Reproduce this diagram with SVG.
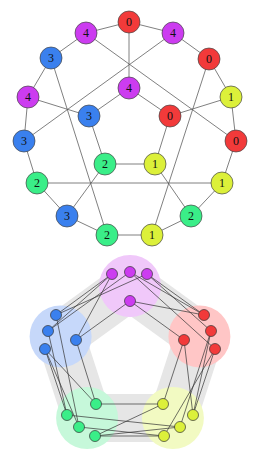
<svg xmlns="http://www.w3.org/2000/svg" width="260" height="462" viewBox="0 0 260 462">
<style>
.e{stroke:#555;stroke-width:0.75;fill:none}
.be{stroke:#333;stroke-width:0.7;fill:none}
.n circle{stroke:#444;stroke-width:0.7}
.s circle{stroke:#333;stroke-width:0.7}
.t{font-family:"Liberation Serif","DejaVu Serif",serif;font-size:12px;fill:#111;text-anchor:middle;dominant-baseline:central}
.c0{fill:#f23a3a}.c1{fill:#dcf03a}.c2{fill:#3aee88}.c3{fill:#3a80ee}.c4{fill:#cc3cf0}
.band{stroke:#e6e6e6;stroke-width:48;stroke-linecap:butt;fill:none}
</style>
<rect width="260" height="462" fill="#fff"/>
<g id="edges-top">
<line class="e" x1="129" y1="22" x2="173" y2="33"/>
<line class="e" x1="173" y1="33" x2="209" y2="59"/>
<line class="e" x1="209" y1="59" x2="231" y2="97"/>
<line class="e" x1="231" y1="97" x2="236" y2="141"/>
<line class="e" x1="236" y1="141" x2="222" y2="183"/>
<line class="e" x1="222" y1="183" x2="191" y2="216"/>
<line class="e" x1="191" y1="216" x2="152" y2="235"/>
<line class="e" x1="152" y1="235" x2="107" y2="235"/>
<line class="e" x1="107" y1="235" x2="67" y2="216"/>
<line class="e" x1="67" y1="216" x2="37" y2="183"/>
<line class="e" x1="37" y1="183" x2="24" y2="141"/>
<line class="e" x1="24" y1="141" x2="28" y2="97"/>
<line class="e" x1="28" y1="97" x2="51" y2="58"/>
<line class="e" x1="51" y1="58" x2="86" y2="33"/>
<line class="e" x1="86" y1="33" x2="129" y2="22"/>
<line class="e" x1="129" y1="88" x2="170" y2="116"/>
<line class="e" x1="170" y1="116" x2="155" y2="164"/>
<line class="e" x1="155" y1="164" x2="105" y2="164"/>
<line class="e" x1="105" y1="164" x2="89" y2="116"/>
<line class="e" x1="89" y1="116" x2="129" y2="88"/>
<line class="e" x1="129" y1="22" x2="129" y2="88"/>
<line class="e" x1="231" y1="97" x2="170" y2="116"/>
<line class="e" x1="191" y1="216" x2="155" y2="164"/>
<line class="e" x1="67" y1="216" x2="105" y2="164"/>
<line class="e" x1="28" y1="97" x2="89" y2="116"/>
<line class="e" x1="173" y1="33" x2="24" y2="141"/>
<line class="e" x1="209" y1="59" x2="152" y2="235"/>
<line class="e" x1="236" y1="141" x2="86" y2="33"/>
<line class="e" x1="222" y1="183" x2="37" y2="183"/>
<line class="e" x1="51" y1="58" x2="107" y2="235"/>
</g>
<g id="t0top" class="n"><circle class="c0" cx="129" cy="22" r="11"/><text class="t" x="129" y="22">0</text></g>
<g id="t4left" class="n"><circle class="c4" cx="86" cy="33" r="11"/><text class="t" x="86" y="33">4</text></g>
<g id="t4right" class="n"><circle class="c4" cx="173" cy="33" r="11"/><text class="t" x="173" y="33">4</text></g>
<g id="t3left" class="n"><circle class="c3" cx="51" cy="58" r="11"/><text class="t" x="51" y="58">3</text></g>
<g id="t0right" class="n"><circle class="c0" cx="209" cy="59" r="11"/><text class="t" x="209" y="59">0</text></g>
<g id="t4inner" class="n"><circle class="c4" cx="129" cy="88" r="11"/><text class="t" x="129" y="88">4</text></g>
<g id="t4farleft" class="n"><circle class="c4" cx="28" cy="97" r="11"/><text class="t" x="28" y="97">4</text></g>
<g id="t1right" class="n"><circle class="c1" cx="231" cy="97" r="11"/><text class="t" x="231" y="97">1</text></g>
<g id="t3inner" class="n"><circle class="c3" cx="89" cy="116" r="11"/><text class="t" x="89" y="116">3</text></g>
<g id="t0inner" class="n"><circle class="c0" cx="170" cy="116" r="11"/><text class="t" x="170" y="116">0</text></g>
<g id="t3farleft" class="n"><circle class="c3" cx="24" cy="141" r="11"/><text class="t" x="24" y="141">3</text></g>
<g id="t0farright" class="n"><circle class="c0" cx="236" cy="141" r="11"/><text class="t" x="236" y="141">0</text></g>
<g id="t2inner" class="n"><circle class="c2" cx="105" cy="164" r="11"/><text class="t" x="105" y="164">2</text></g>
<g id="t1inner" class="n"><circle class="c1" cx="155" cy="164" r="11"/><text class="t" x="155" y="164">1</text></g>
<g id="t2left" class="n"><circle class="c2" cx="37" cy="183" r="11"/><text class="t" x="37" y="183">2</text></g>
<g id="t1right2" class="n"><circle class="c1" cx="222" cy="183" r="11"/><text class="t" x="222" y="183">1</text></g>
<g id="t3lower" class="n"><circle class="c3" cx="67" cy="216" r="11"/><text class="t" x="67" y="216">3</text></g>
<g id="t2lowerright" class="n"><circle class="c2" cx="191" cy="216" r="11"/><text class="t" x="191" y="216">2</text></g>
<g id="t2bottom" class="n"><circle class="c2" cx="107" cy="235" r="11"/><text class="t" x="107" y="235">2</text></g>
<g id="t1bottom" class="n"><circle class="c1" cx="152" cy="235" r="11"/><text class="t" x="152" y="235">1</text></g>

<g id="bands">
<polygon class="band" stroke-linejoin="round" points="130,286 199.4,336.4 172.9,418 87.1,418 60.6,336.4"/>
</g>
<g id="clusters">
<circle id="blob4" cx="130" cy="286" r="31" fill="#f0c8fa"/>
<circle id="blob0" cx="199.4" cy="336.4" r="31" fill="#ffc6c6"/>
<circle id="blob1" cx="172.9" cy="418" r="31" fill="#f2fac2"/>
<circle id="blob2" cx="87.1" cy="418" r="31" fill="#c6f8da"/>
<circle id="blob3" cx="60.6" cy="336.4" r="31" fill="#c6d8fa"/>
</g>
<g id="edges-bottom">
<line class="be" x1="112" y1="274" x2="56" y2="315"/>
<line class="be" x1="112" y1="274" x2="48" y2="331"/>
<line class="be" x1="112" y1="274" x2="76" y2="340"/>
<line class="be" x1="130" y1="272" x2="48" y2="331"/>
<line class="be" x1="147" y1="274" x2="56" y2="315"/>
<line class="be" x1="130" y1="301" x2="76" y2="340"/>
<line class="be" x1="130" y1="272" x2="204" y2="315"/>
<line class="be" x1="147" y1="274" x2="204" y2="315"/>
<line class="be" x1="130" y1="301" x2="204" y2="315"/>
<line class="be" x1="130" y1="301" x2="184" y2="340"/>
<line class="be" x1="130" y1="272" x2="215" y2="349"/>
<line class="be" x1="147" y1="274" x2="211" y2="331"/>
<line class="be" x1="211" y1="331" x2="193" y2="415"/>
<line class="be" x1="211" y1="331" x2="180" y2="427"/>
<line class="be" x1="215" y1="349" x2="193" y2="415"/>
<line class="be" x1="215" y1="349" x2="164" y2="436"/>
<line class="be" x1="184" y1="340" x2="163" y2="404"/>
<line class="be" x1="184" y1="340" x2="193" y2="415"/>
<line class="be" x1="164" y1="436" x2="79" y2="427"/>
<line class="be" x1="164" y1="436" x2="95" y2="436"/>
<line class="be" x1="180" y1="427" x2="95" y2="436"/>
<line class="be" x1="180" y1="427" x2="67" y2="415"/>
<line class="be" x1="163" y1="404" x2="95" y2="436"/>
<line class="be" x1="163" y1="404" x2="96" y2="404"/>
<line class="be" x1="67" y1="415" x2="48" y2="331"/>
<line class="be" x1="67" y1="415" x2="45" y2="349"/>
<line class="be" x1="79" y1="427" x2="56" y2="315"/>
<line class="be" x1="79" y1="427" x2="45" y2="349"/>
<line class="be" x1="96" y1="404" x2="76" y2="340"/>
<line class="be" x1="96" y1="404" x2="45" y2="349"/>
</g>
<g id="bP1" class="s"><circle class="c4" cx="112" cy="274" r="5.5"/></g>
<g id="bP2" class="s"><circle class="c4" cx="130" cy="272" r="5.5"/></g>
<g id="bP3" class="s"><circle class="c4" cx="147" cy="274" r="5.5"/></g>
<g id="bPin" class="s"><circle class="c4" cx="130" cy="301" r="5.5"/></g>
<g id="bB1" class="s"><circle class="c3" cx="56" cy="315" r="5.5"/></g>
<g id="bB2" class="s"><circle class="c3" cx="48" cy="331" r="5.5"/></g>
<g id="bB3" class="s"><circle class="c3" cx="45" cy="349" r="5.5"/></g>
<g id="bBin" class="s"><circle class="c3" cx="76" cy="340" r="5.5"/></g>
<g id="bR1" class="s"><circle class="c0" cx="204" cy="315" r="5.5"/></g>
<g id="bR2" class="s"><circle class="c0" cx="211" cy="331" r="5.5"/></g>
<g id="bR3" class="s"><circle class="c0" cx="215" cy="349" r="5.5"/></g>
<g id="bRin" class="s"><circle class="c0" cx="184" cy="340" r="5.5"/></g>
<g id="bG1" class="s"><circle class="c2" cx="67" cy="415" r="5.5"/></g>
<g id="bG2" class="s"><circle class="c2" cx="79" cy="427" r="5.5"/></g>
<g id="bG3" class="s"><circle class="c2" cx="95" cy="436" r="5.5"/></g>
<g id="bGin" class="s"><circle class="c2" cx="96" cy="404" r="5.5"/></g>
<g id="bY1" class="s"><circle class="c1" cx="193" cy="415" r="5.5"/></g>
<g id="bY2" class="s"><circle class="c1" cx="180" cy="427" r="5.5"/></g>
<g id="bY3" class="s"><circle class="c1" cx="164" cy="436" r="5.5"/></g>
<g id="bYin" class="s"><circle class="c1" cx="163" cy="404" r="5.5"/></g>
</svg>
